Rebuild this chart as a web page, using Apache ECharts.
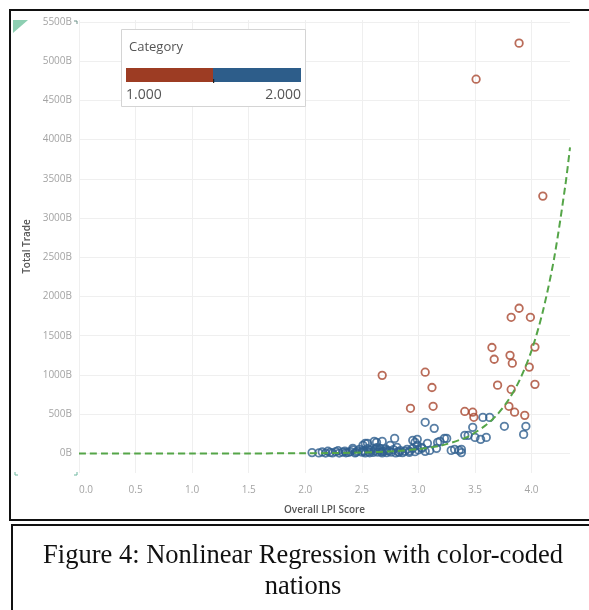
<!DOCTYPE html>
<html>
<head>
<meta charset="utf-8">
<script src="https://cdn.jsdelivr.net/npm/echarts@6/dist/echarts.min.js"></script>
<style>
  html, body { margin: 0; padding: 0; background: #fff; }
  #chart { width: 589px; height: 610px; }
</style>
</head>
<body>
<div id="chart"></div>
<script>
// Axis tick values
const xTicks = [0, 0.5, 1.0, 1.5, 2.0, 2.5, 3.0, 3.5, 4.0];
const yTicks = [0, 500, 1000, 1500, 2000, 2500, 3000, 3500, 4000, 4500, 5000, 5500];

// Category 1 nations (LPI score, total trade in billions)
const cat1Lpi = [3.89, 3.51, 4.10, 3.89, 3.82, 3.99, 3.65, 4.03, 3.67, 3.81, 3.83, 3.98,
  2.68, 3.06, 3.12, 3.70, 3.82, 4.03, 2.93, 3.13, 3.41, 3.48, 3.80, 3.85, 3.94, 3.49];
const cat1Trade = [5230, 4770, 3280, 1850, 1735, 1735, 1350, 1355, 1200, 1250, 1150, 1100,
  995, 1035, 840, 870, 815, 880, 575, 600, 535, 525, 600, 525, 485, 460];

// Category 2 nations (LPI score, total trade in billions)
const cat2Lpi = [2.06, 2.12, 2.15, 2.18, 2.20, 2.22, 2.24, 2.27, 2.29, 2.30, 2.33, 2.35, 2.36,
  2.38, 2.40, 2.42, 2.44, 2.45, 2.46, 2.48, 2.50, 2.51, 2.52, 2.53, 2.55, 2.56, 2.57, 2.58,
  2.60, 2.61, 2.62, 2.63, 2.64, 2.66, 2.67, 2.68, 2.69, 2.71, 2.72, 2.74, 2.76, 2.78, 2.80,
  2.82, 2.84, 2.86, 2.88, 2.90, 2.92, 2.95, 2.97, 3.00, 3.03, 3.06,
  2.42, 2.51, 2.53, 2.55, 2.61, 2.63, 2.66, 2.68, 2.72, 2.75, 2.79, 2.81, 2.83, 2.92, 2.95,
  2.97, 2.99, 2.99, 3.03, 3.06, 3.08, 3.10, 3.14, 3.16, 3.17, 3.19, 3.23, 3.25, 3.29, 3.32,
  3.38, 3.38, 3.36, 3.41, 3.44, 3.48, 3.50, 3.55, 3.57, 3.60, 3.63, 3.76, 3.93, 3.95];
const cat2Trade = [10, 6, 18, 4, 28, 12, 6, 22, 34, 4, 16, 30, 8,
  12, 22, 44, 6, 14, 28, 52, 16, 36, 24, 6, 62, 20, 8, 46,
  12, 32, 54, 72, 16, 42, 20, 6, 26, 58, 10, 32, 16, 48, 6,
  22, 36, 10, 28, 52, 30, 64, 22, 44, 76, 26,
  64, 102, 128, 128, 153, 140, 64, 153, 38, 102, 191, 77, 13, 13, 166,
  140, 179, 102, 64, 396, 128, 38, 319, 64, 140, 153, 191, 191, 38, 51,
  51, 10, 38, 230, 230, 332, 204, 179, 459, 204, 459, 345, 242, 345];

// Fitted nonlinear regression curve
const fitLpi = [0, 0.5, 1.0, 1.5, 2.0, 2.5, 2.8, 3.0, 3.2, 3.4, 3.5, 3.6, 3.7, 3.8, 3.9, 4.0, 4.1, 4.2, 4.3, 4.34];
const fitTrade = [0, 0, 0, 0, 2, 10, 30, 55, 100, 190, 265, 365, 500, 690, 950, 1310, 1810, 2490, 3430, 3900];

const RED = '#a9472f';
const BLUE = '#2f5f8f';
const GREEN = '#55a548';

const zip = (a, b) => a.map((v, i) => [v, b[i]]);

const chart = echarts.init(document.getElementById('chart'), null, { renderer: 'canvas' });

const tickFont = { color: '#a4a4a4', fontSize: 10, fontFamily: 'Open Sans' };
const nameFont = { color: '#555', fontSize: 10, fontWeight: 600, fontFamily: 'Open Sans' };

chart.setOption({
  animation: false,
  backgroundColor: '#fff',
  grid: { left: 79, right: 19, top: 20, bottom: 137, containLabel: false },
  xAxis: {
    type: 'value',
    min: 0,
    max: 4.34,
    axisLine: { show: false },
    axisTick: { show: false, customValues: xTicks },
    axisLabel: Object.assign({ customValues: xTicks, margin: 12, alignMinLabel: 'left',
      formatter: v => v.toFixed(1) }, tickFont),
    splitLine: { lineStyle: { color: '#efefef', width: 1 } },
    name: 'Overall LPI Score',
    nameLocation: 'middle',
    nameGap: 32,
    nameTextStyle: nameFont
  },
  yAxis: {
    type: 'value',
    min: -250,
    max: 5525,
    axisLine: { show: false },
    axisTick: { show: false, customValues: yTicks },
    axisLabel: Object.assign({ customValues: yTicks, margin: 7, formatter: v => v + 'B' }, tickFont),
    splitLine: { lineStyle: { color: '#efefef', width: 1 } },
    name: 'Total Trade',
    nameLocation: 'middle',
    nameGap: 44,
    nameRotate: 90,
    nameTextStyle: nameFont
  },
  series: [
    {
      name: '2.000',
      type: 'scatter',
      clip: false,
      symbol: 'circle',
      symbolSize: 7.5,
      itemStyle: { color: 'rgba(0,0,0,0)', borderColor: BLUE, borderWidth: 1.8 },
      data: zip(cat2Lpi, cat2Trade)
    },
    {
      name: '1.000',
      type: 'scatter',
      clip: false,
      symbol: 'circle',
      symbolSize: 7.5,
      itemStyle: { color: 'rgba(0,0,0,0)', borderColor: RED, borderWidth: 1.8 },
      data: zip(cat1Lpi, cat1Trade)
    },
    {
      name: 'Trend',
      type: 'line',
      smooth: 0.3,
      showSymbol: false,
      symbol: 'none',
      clip: true,
      z: 5,
      lineStyle: { color: GREEN, width: 2, type: [7, 4] },
      data: zip(fitLpi, fitTrade)
    }
  ],
  graphic: [
    // outer frame of the chart panel
    { type: 'rect', z: 100, shape: { x: 10, y: 10, width: 620, height: 510 },
      style: { fill: 'none', stroke: '#111', lineWidth: 2 } },
    // caption frame
    { type: 'rect', z: 100, shape: { x: 12, y: 525, width: 620, height: 120 },
      style: { fill: 'none', stroke: '#111', lineWidth: 2 } },
    // corner markers
    { type: 'polygon', z: 50, shape: { points: [[13, 20], [28, 20], [13, 33]] },
      style: { fill: '#8dcfb2' } },
    { type: 'polyline', z: 50, shape: { points: [[74, 21], [77, 21], [77, 24]] },
      style: { stroke: '#6a8f86', lineWidth: 1, fill: 'none' } },
    { type: 'polyline', z: 50, shape: { points: [[15, 472], [15, 475], [18, 475]] },
      style: { stroke: '#6fb8a0', lineWidth: 1, fill: 'none' } },
    { type: 'polyline', z: 50, shape: { points: [[74, 475], [77, 475], [77, 472]] },
      style: { stroke: '#6fb8a0', lineWidth: 1, fill: 'none' } },
    // category legend card
    { type: 'rect', z: 60, shape: { x: 121.5, y: 29.5, width: 184, height: 77 },
      style: { fill: '#fff', stroke: '#d4d4d4', lineWidth: 1 } },
    { type: 'text', z: 61, style: { x: 129, y: 47, text: 'Category', fill: '#555',
      fontSize: 13, fontFamily: 'Open Sans', verticalAlign: 'middle', align: 'left' } },
    { type: 'rect', z: 61, shape: { x: 126, y: 68, width: 87, height: 14 }, style: { fill: '#9d3c23' } },
    { type: 'rect', z: 61, shape: { x: 213, y: 68, width: 88, height: 14 }, style: { fill: '#2d5d8a' } },
    { type: 'rect', z: 62, shape: { x: 213, y: 79, width: 1.2, height: 4 }, style: { fill: '#222' } },
    { type: 'text', z: 61, style: { x: 126, y: 95, text: '1.000', fill: '#555',
      fontSize: 14, fontFamily: 'Open Sans', verticalAlign: 'middle', align: 'left' } },
    { type: 'text', z: 61, style: { x: 301, y: 95, text: '2.000', fill: '#555',
      fontSize: 14, fontFamily: 'Open Sans', verticalAlign: 'middle', align: 'right' } },
    // figure caption
    { type: 'text', z: 61, style: { x: 303, y: 556, text: 'Figure 4: Nonlinear Regression with color-coded',
      fill: '#111', fontSize: 26.5, fontFamily: 'Liberation Serif', verticalAlign: 'middle', align: 'center' } },
    { type: 'text', z: 61, style: { x: 303, y: 587, text: 'nations',
      fill: '#111', fontSize: 26.5, fontFamily: 'Liberation Serif', verticalAlign: 'middle', align: 'center' } }
  ]
});
</script>
</body>
</html>
